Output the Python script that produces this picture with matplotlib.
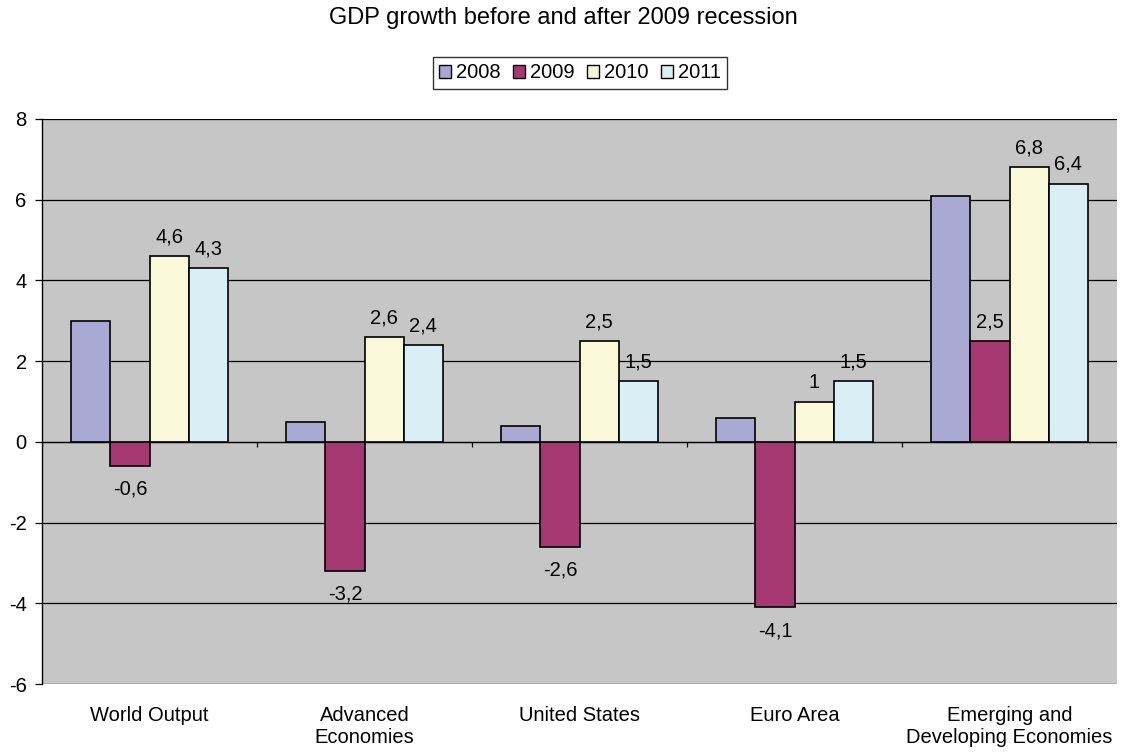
import matplotlib
matplotlib.use("Agg")
import matplotlib.pyplot as plt
from matplotlib.patches import Patch
import numpy as np

plt.rcParams['font.family'] = ['Liberation Sans', 'DejaVu Sans']
plt.rcParams['axes.unicode_minus'] = False

categories = ['World Output', 'Advanced\nEconomies', 'United States', 'Euro Area',
              'Emerging and\nDeveloping Economies']
years = ['2008', '2009', '2010', '2011']
growth_2008 = [3.0, 0.5, 0.4, 0.6, 6.1]
growth_2009 = [-0.6, -3.2, -2.6, -4.1, 2.5]
growth_2010 = [4.6, 2.6, 2.5, 1.0, 6.8]
growth_2011 = [4.3, 2.4, 1.5, 1.5, 6.4]
series = [growth_2008, growth_2009, growth_2010, growth_2011]
labelled = [False, True, True, True]  # 2008 bars carry no value labels

colors = ['#A9A9D3', '#A63872', '#F9F9D9', '#D9EFF5']
fs = 14.5

fig = plt.figure(figsize=(11.22, 7.53), dpi=100)
ax = fig.add_axes([42 / 1122, 69 / 753, 1075 / 1122, 565 / 753])
ax.set_facecolor('#C6C6C6')

x = np.arange(len(categories))
w = 1 / 5.5

def fmt(v):
    s = f"{v:.1f}".rstrip('0').rstrip('.')
    return s.replace('.', ',')

for i, (vals, col) in enumerate(zip(series, colors)):
    pos = x + (i - 1.5) * w
    bars = ax.bar(pos, vals, width=w, color=col, edgecolor='black', linewidth=1.2, zorder=3)
    if labelled[i]:
        for b, v in zip(bars, vals):
            cx = b.get_x() + b.get_width() / 2
            if v >= 0:
                ax.annotate(fmt(v), (cx, v), xytext=(0, 10), textcoords='offset points',
                            ha='center', va='baseline', fontsize=fs)
            else:
                ax.annotate(fmt(v), (cx, v), xytext=(0, -10), textcoords='offset points',
                            ha='center', va='top', fontsize=fs)

ax.set_xlim(-0.5, len(categories) - 0.5)
ax.set_ylim(-6, 8)
ax.set_yticks(range(-6, 9, 2))
ax.yaxis.grid(True, color='black', linewidth=0.9, zorder=1)
ax.set_axisbelow(True)

# category axis sits on zero: small tick marks between groups
ax.axhline(0, color='black', linewidth=0.9, zorder=2)
ax.vlines(np.arange(-0.5, len(categories), 1), -0.13, 0, color='black', linewidth=0.9, zorder=2)

ax.set_xticks(x)
ax.set_xticklabels(categories, fontsize=fs, linespacing=1.2)
ax.tick_params(axis='x', length=0, pad=16)
ax.tick_params(axis='y', labelsize=fs, direction='out', length=5, width=0.9, pad=6)

for side in ['top', 'right', 'bottom']:
    ax.spines[side].set_visible(False)
ax.spines['left'].set_linewidth(1.0)

fig.text(563 / 1122, 1 - 18 / 753, 'GDP growth before and after 2009 recession',
         ha='center', va='center', fontsize=17)

handles = [Patch(facecolor=c, edgecolor='black', linewidth=1.0) for c in colors]
leg = fig.legend(handles, years, loc='center', bbox_to_anchor=(580 / 1122, 1 - 73 / 753),
                 ncol=4, fontsize=fs, frameon=True, fancybox=False, edgecolor='black',
                 handlelength=0.6, handleheight=0.6, handletextpad=0.25, columnspacing=0.6,
                 borderpad=0.3, borderaxespad=0)
leg.get_frame().set_linewidth(1.0)

fig.savefig('out.png', dpi=100, facecolor='white')
